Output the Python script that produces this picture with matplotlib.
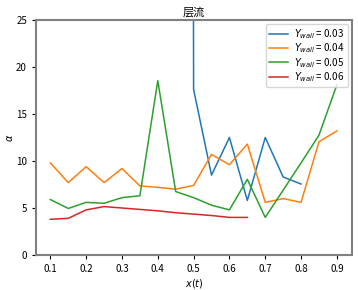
import numpy as np
import matplotlib
matplotlib.use('Agg')
import matplotlib.pyplot as plt

plt.rcParams['font.family'] = ['Noto Sans CJK SC', 'DejaVu Sans']
plt.rcParams['axes.unicode_minus'] = False

# Y_wall = 0.03 (starts far above the plotted range)
x_003 = [0.495, 0.5, 0.55, 0.6, 0.65, 0.7, 0.75, 0.8]
y_003 = [120.0, 17.6, 8.5, 12.5, 5.8, 12.5, 8.3, 7.55]

x_004 = [0.1, 0.15, 0.2, 0.25, 0.3, 0.35, 0.4, 0.45, 0.5, 0.55, 0.6, 0.65, 0.7, 0.75, 0.8, 0.85, 0.9]
y_004 = [9.8, 7.7, 9.4, 7.7, 9.2, 7.35, 7.2, 7.0, 7.4, 10.7, 9.6, 11.8, 5.6, 6.0, 5.6, 12.05, 13.2]

x_005 = [0.1, 0.15, 0.2, 0.25, 0.3, 0.35, 0.4, 0.45, 0.5, 0.55, 0.6, 0.65, 0.7, 0.75, 0.8, 0.85, 0.9]
y_005 = [5.9, 4.95, 5.6, 5.5, 6.1, 6.3, 18.55, 6.75, 6.1, 5.3, 4.8, 8.05, 4.0, 6.9, 9.8, 12.75, 18.1]

x_006 = [0.1, 0.15, 0.2, 0.25, 0.3, 0.35, 0.4, 0.45, 0.5, 0.55, 0.6, 0.65]
y_006 = [3.8, 3.9, 4.8, 5.15, 5.0, 4.85, 4.7, 4.5, 4.35, 4.2, 4.0, 4.0]

series = [(x_003, y_003, '0.03'), (x_004, y_004, '0.04'),
          (x_005, y_005, '0.05'), (x_006, y_006, '0.06')]

fig = plt.figure(figsize=(3.58, 2.90), dpi=100)
ax = fig.add_axes([0.1006, 0.1207, 0.8824, 0.8103])

for xs, ys, lab in series:
    ax.plot(xs, ys, linewidth=1.1, label=r'$Y_{wall}$ = ' + lab)

ax.set_xlim(0.06, 0.942)
ax.set_ylim(0, 25)
ax.set_xticks([0.1, 0.2, 0.3, 0.4, 0.5, 0.6, 0.7, 0.8, 0.9])
ax.set_yticks([0, 5, 10, 15, 20, 25])
ax.tick_params(labelsize=7, length=3, width=0.8)

for sp in ax.spines.values():
    sp.set_color('#808080')
    sp.set_linewidth(1.5)

ax.set_xlabel(r'$x(t)$', fontsize=7, labelpad=2)
ax.set_ylabel(r'$\alpha$', fontsize=7, labelpad=1)
ax.set_title('层流', fontsize=8, pad=3)
ax.legend(loc='upper right', fontsize=7, handlelength=2.0, borderaxespad=0.45,
          labelspacing=0.05, borderpad=0.3, handletextpad=0.6)

fig.savefig('out.png', dpi=100)
